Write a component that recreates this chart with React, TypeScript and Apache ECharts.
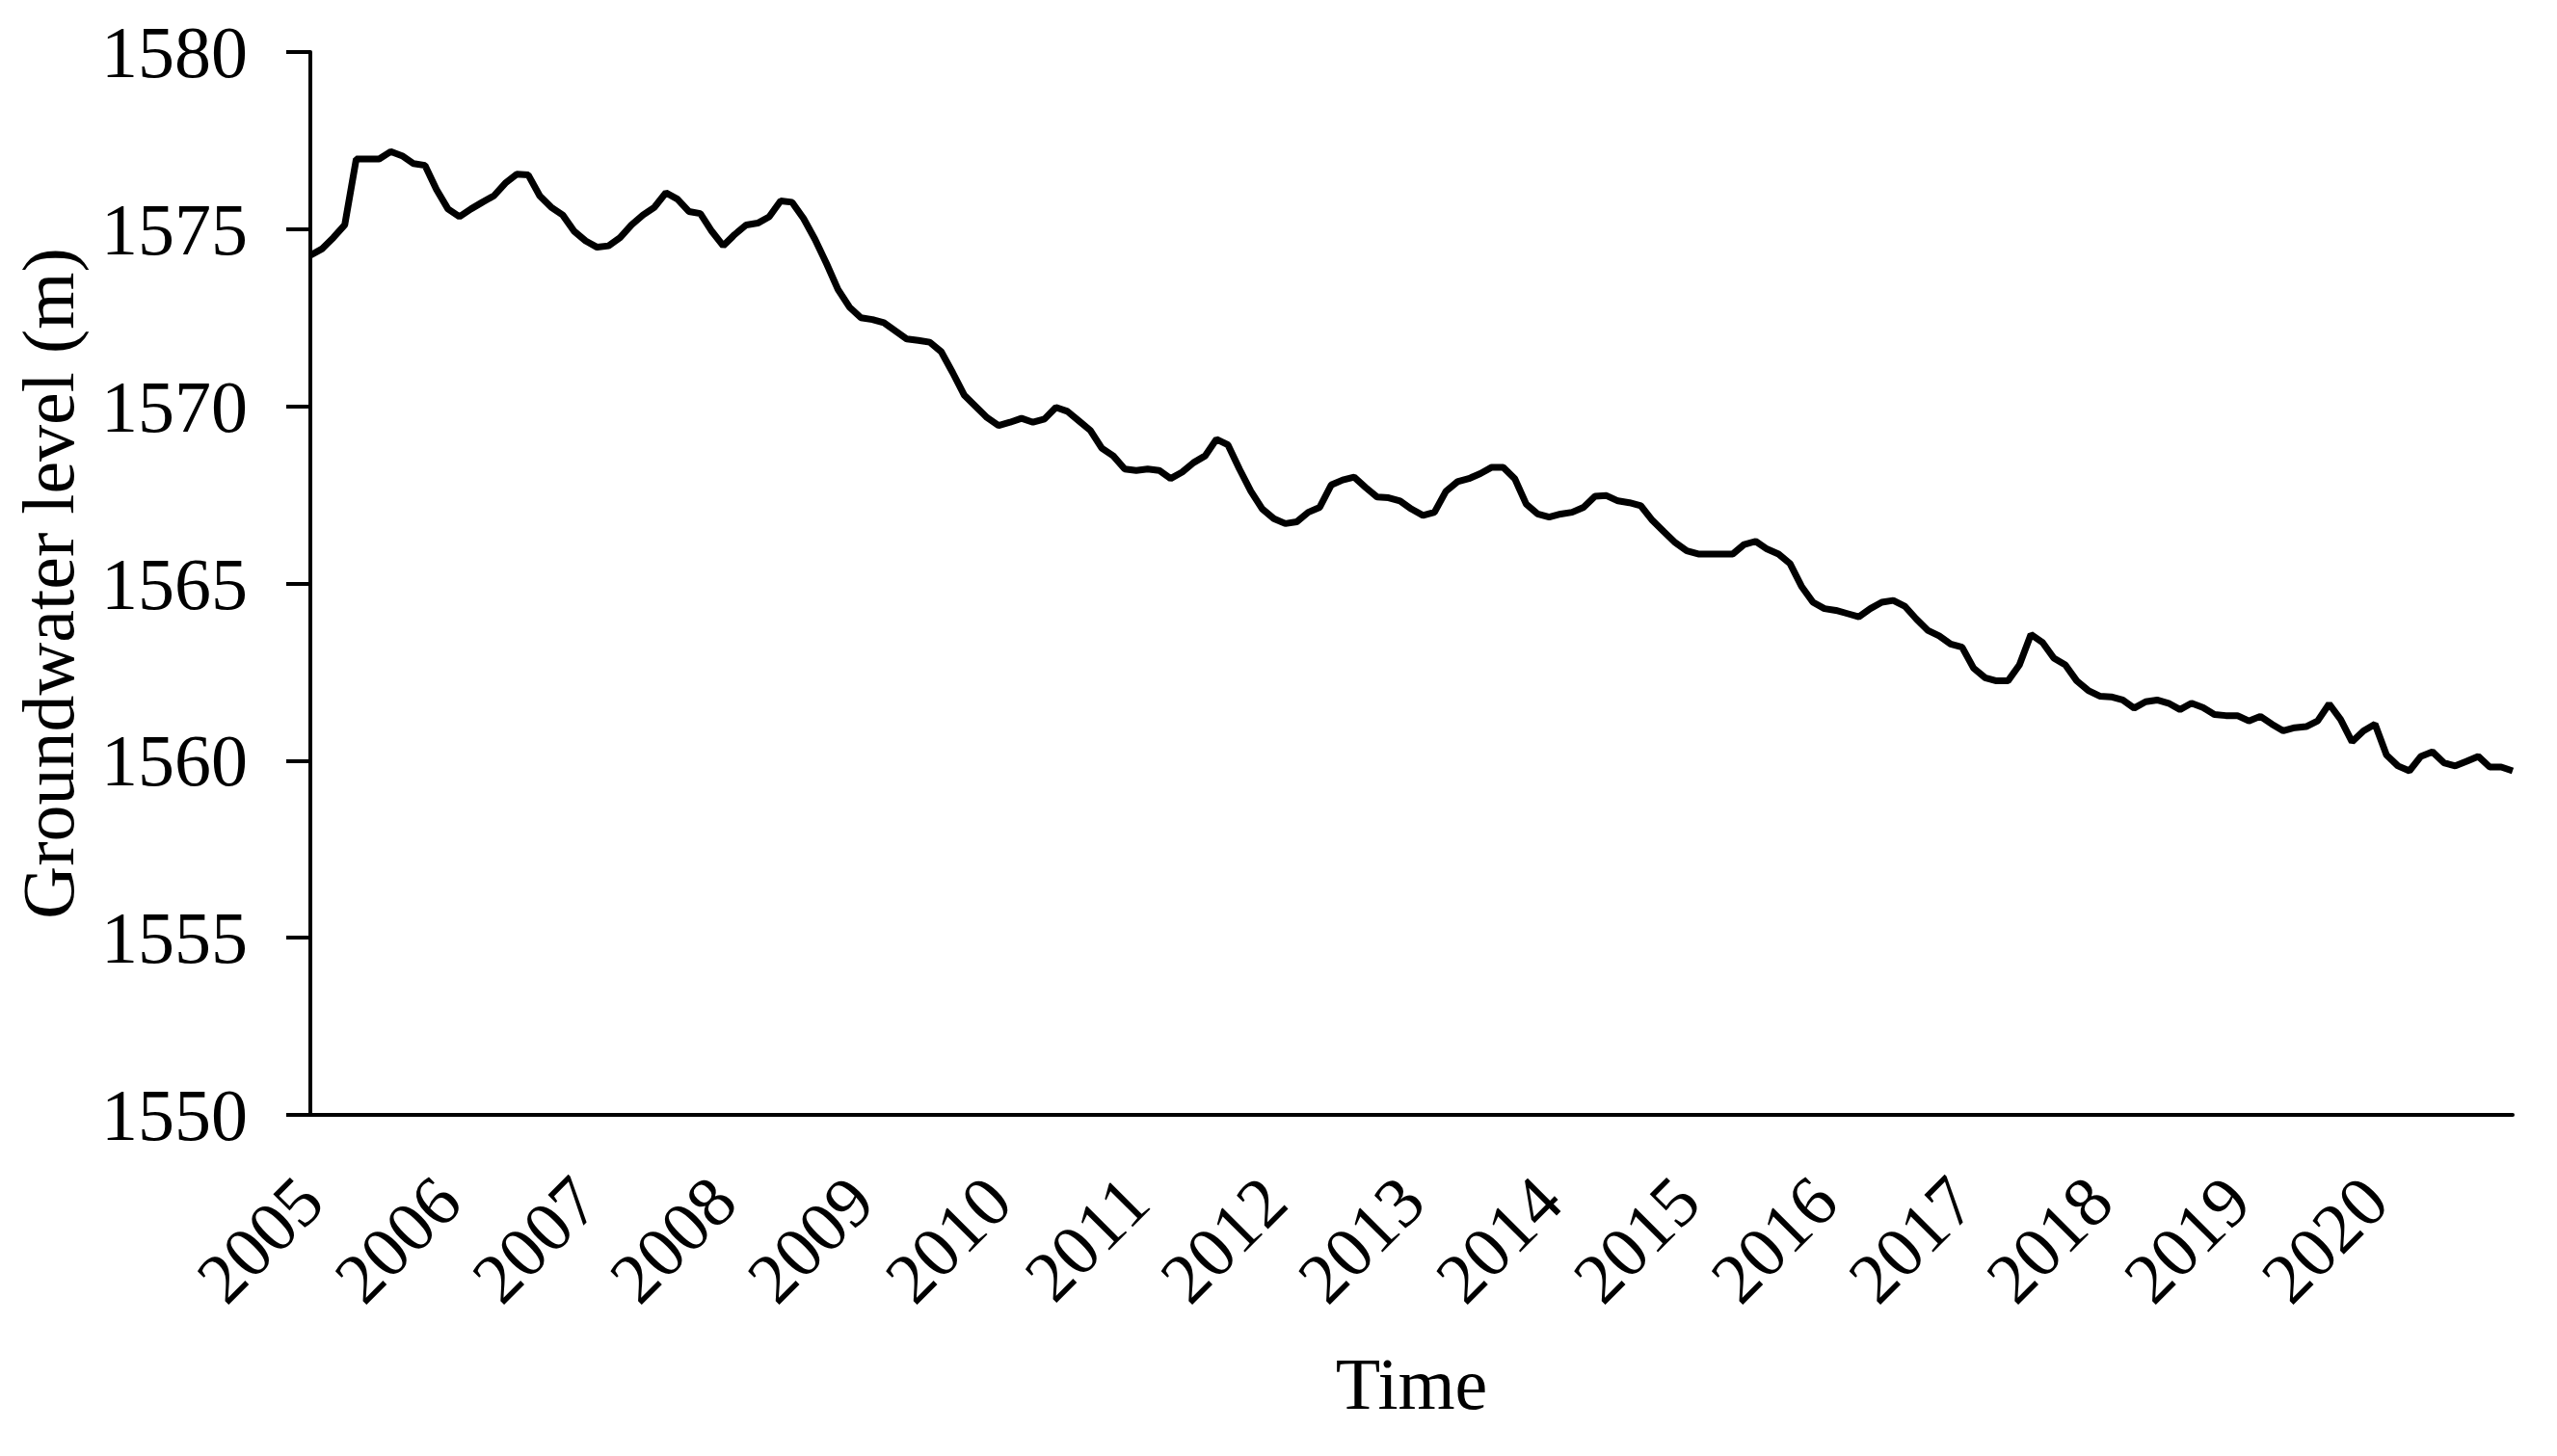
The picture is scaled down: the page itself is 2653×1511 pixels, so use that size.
import React, { useEffect, useRef } from "react";
import * as echarts from "echarts";

const years = ["2005","2006","2007","2008","2009","2010","2011","2012","2013","2014","2015","2016","2017","2018","2019","2020"];
const monthsPerYear = 12;
// Monthly groundwater level (m), Jan 2005 .. Jan 2021
const levels = [
  1574.26,1574.44,1574.76,1575.12,1576.98,1576.98,1576.98,1577.19,1577.07,1576.85,1576.8,1576.12,
  1575.57,1575.35,1575.57,1575.76,1575.94,1576.3,1576.55,1576.53,1575.94,1575.62,1575.4,1574.94,
  1574.67,1574.49,1574.53,1574.76,1575.12,1575.4,1575.62,1576.03,1575.85,1575.5,1575.44,1574.94,
  1574.53,1574.85,1575.12,1575.17,1575.35,1575.8,1575.76,1575.3,1574.71,1574.03,1573.3,1572.8,
  1572.5,1572.45,1572.36,1572.13,1571.9,1571.86,1571.81,1571.54,1570.95,1570.32,1570.0,1569.68,
  1569.46,1569.55,1569.66,1569.55,1569.64,1569.97,1569.86,1569.59,1569.32,1568.82,1568.6,1568.23,
  1568.19,1568.23,1568.19,1567.96,1568.14,1568.41,1568.6,1569.07,1568.91,1568.23,1567.6,1567.1,
  1566.83,1566.69,1566.74,1567.01,1567.15,1567.78,1567.92,1568.0,1567.71,1567.44,1567.42,1567.33,
  1567.1,1566.92,1567.01,1567.6,1567.87,1567.96,1568.1,1568.28,1568.28,1567.96,1567.24,1566.96,
  1566.87,1566.96,1567.01,1567.15,1567.46,1567.48,1567.33,1567.28,1567.19,1566.78,1566.46,1566.15,
  1565.92,1565.83,1565.83,1565.83,1565.83,1566.1,1566.19,1565.97,1565.83,1565.56,1564.92,1564.47,
  1564.29,1564.24,1564.15,1564.06,1564.29,1564.47,1564.52,1564.36,1564.0,1563.68,1563.52,1563.29,
  1563.2,1562.61,1562.34,1562.25,1562.25,1562.7,1563.56,1563.34,1562.89,1562.7,1562.25,1561.98,
  1561.82,1561.8,1561.71,1561.48,1561.66,1561.71,1561.62,1561.44,1561.62,1561.5,1561.3,1561.27,
  1561.27,1561.12,1561.25,1561.03,1560.84,1560.93,1560.96,1561.12,1561.6,1561.16,1560.53,1560.84,
  1561.03,1560.16,1559.85,1559.71,1560.12,1560.25,1559.94,1559.85,1559.98,1560.12,1559.82,1559.82,
  1559.71
];
const yMin = 1550;
const yMax = 1580;
const yInterval = 5;

const categories: string[] = [];
years.forEach((y) => {
  for (let m = 1; m <= monthsPerYear; m++) categories.push(y + "-" + String(m).padStart(2, "0"));
});
categories.push("2021-01");

const FONT = '"Liberation Serif", "Times New Roman", serif';

export default function App() {
  const ref = useRef<HTMLDivElement>(null);
  useEffect(() => {
    if (!ref.current) return;
    const chart = echarts.init(ref.current, undefined, { renderer: "svg" });
    chart.setOption({
      animation: false,
      backgroundColor: "#ffffff",
      grid: { left: 322, right: 46, top: 54, bottom: 354, containLabel: false },
      xAxis: {
        type: "category",
        data: categories,
        boundaryGap: false,
        name: "Time",
        nameLocation: "middle",
        nameGap: 241,
        nameTextStyle: { fontFamily: FONT, fontSize: 76, color: "#000" },
        axisLine: { show: true, lineStyle: { color: "#000", width: 4 } },
        axisTick: { show: false },
        splitLine: { show: false },
        axisLabel: {
          interval: (idx: number) => idx % monthsPerYear === 0 && idx < years.length * monthsPerYear,
          formatter: (v: string) => v.slice(0, 4),
          rotate: 45,
          margin: 77,
          fontFamily: FONT,
          fontSize: 74,
          color: "#000",
        },
      },
      yAxis: {
        type: "value",
        min: yMin,
        max: yMax,
        interval: yInterval,
        name: "Groundwater level (m)",
        nameLocation: "middle",
        nameRotate: 90,
        nameGap: 234,
        nameTextStyle: { fontFamily: FONT, fontSize: 76, color: "#000" },
        axisLine: { show: true, lineStyle: { color: "#000", width: 4 } },
        axisTick: { show: true, inside: false, length: 25, lineStyle: { color: "#000", width: 4 } },
        splitLine: { show: false },
        axisLabel: {
          margin: 65,
          formatter: (v: number) => String(v),
          fontFamily: FONT,
          fontSize: 76,
          color: "#000",
        },
      },
      series: [
        {
          type: "line",
          data: levels,
          symbol: "none",
          lineStyle: { color: "#000", width: 7 },
          itemStyle: { color: "#000" },
        },
      ],
    });
    return () => chart.dispose();
  }, []);
  return (
    <div
      ref={ref}
      style={{ position: "fixed", left: 0, top: 0, width: 2653, height: 1511, background: "#fff" }}
    />
  );
}
